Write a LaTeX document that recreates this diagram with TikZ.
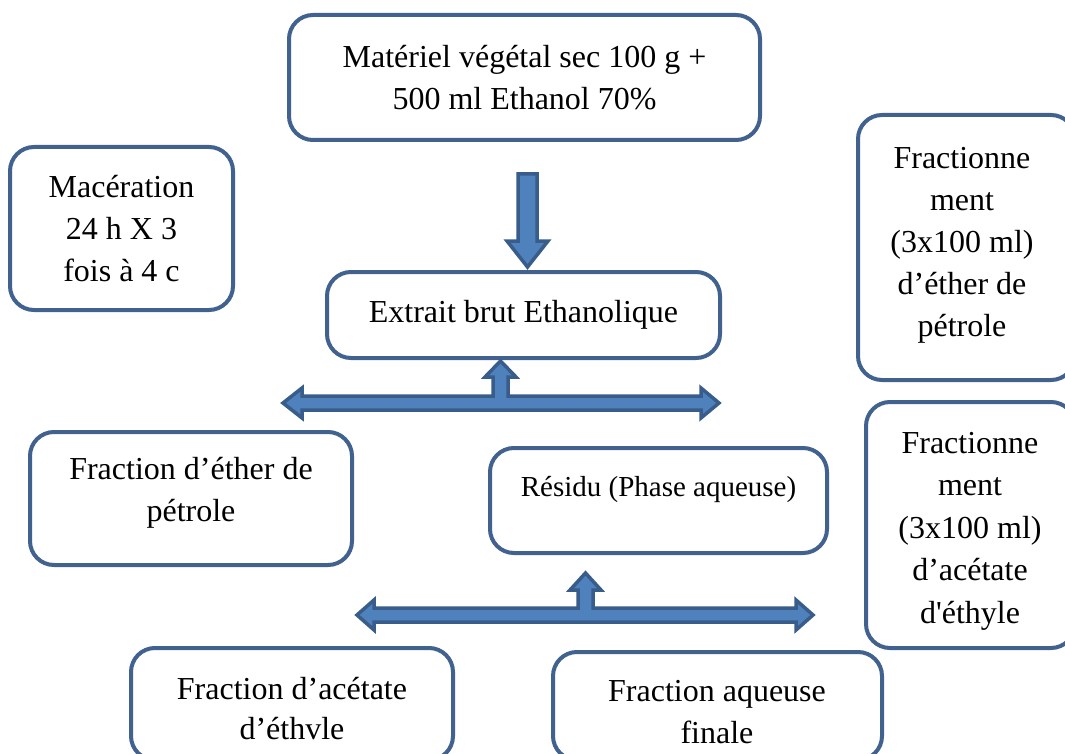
\documentclass[tikz,border=0pt]{standalone}
\usepackage{fontspec}
\setmainfont{Liberation Serif}
\definecolor{boxblue}{HTML}{41628F}
\definecolor{arrfill}{HTML}{4F81BD}
\definecolor{arrdraw}{HTML}{385D8A}
\tikzset{
  box/.style={draw=boxblue, line width=4pt, rounded corners=24pt, fill=white,
    align=center, inner sep=0pt, font=\fontsize{32}{42}\selectfont},
  boxtext/.style={align=center, inner sep=0pt, font=\fontsize{32}{42}\selectfont},
  blockarrow/.style={fill=arrfill, draw=arrdraw, line width=3.5pt, line join=miter},
}
\begin{document}
\begin{tikzpicture}[x=1pt,y=-1pt]
\path[use as bounding box, clip] (0,0) rectangle (1065,754);
\fill[white] (0,0) rectangle (1065,754);

% boxes
\node[box, minimum width=471pt, minimum height=125pt] (top) at (524.5,77.5) {Matériel végétal sec 100 g +\\500 ml Ethanol 70\%};
\node[box, minimum width=223pt, minimum height=163pt] (mac) at (121.5,228.5) {Macération\\24 h X 3\\fois à 4 c};
\node[box, minimum width=217pt, minimum height=265pt] (fr1) at (966.5,247.5) {};
\node[boxtext] (fr1t) at (962,245) {Fractionne\\ment\\(3x100 ml)\\d’éther de\\pétrole};
\node[box, minimum width=393pt, minimum height=86pt] (ext) at (523.5,315) {Extrait brut Ethanolique};
\node[box, minimum width=322pt, minimum height=133pt] (feth) at (191,498.5) {};
\node[boxtext] (fetht) at (191,493) {Fraction d’éther de\\pétrole};
\node[box, minimum width=337pt, minimum height=105pt] (res) at (658.5,500.5) {};
\node[font=\fontsize{29}{36}\selectfont, inner sep=0pt] (rest) at (658.5,490) {Résidu (Phase aqueuse)};
\node[box, minimum width=209pt, minimum height=246pt] (fr2) at (970.5,525) {};
\node[boxtext, font=\fontsize{32}{42.5}\selectfont] (fr2t) at (970,531) {Fractionne\\ment\\(3x100 ml)\\d’acétate\\d\textquotesingle éthyle};
\node[box, minimum width=322pt, minimum height=112pt] (fac) at (292,704) {};
\node[boxtext, font=\fontsize{32}{40}\selectfont] (fact) at (292,709) {Fraction d’acétate\\d’éthvle};
\node[box, minimum width=329pt, minimum height=108pt] (faq) at (717.5,706) {};
\node[boxtext] (faqt) at (717,712) {Fraction aqueuse\\finale};

% down arrow
\draw[blockarrow] (518,174) -- (537,174) -- (537,241) -- (548,241) -- (527.5,267) -- (507,241) -- (518,241) -- cycle;

% first T arrow
\draw[blockarrow] (283,403) -- (302,388) -- (302,396) -- (493,396) -- (493,377) -- (485,377) -- (500.5,361)
  -- (516,377) -- (508,377) -- (508,396) -- (701,396) -- (701,388) -- (719,403) -- (701,418)
  -- (701,410) -- (302,410) -- (302,418) -- cycle;

% second T arrow
\draw[blockarrow] (357,615) -- (374,600) -- (374,608) -- (578,608) -- (578,590) -- (570,590) -- (585.5,573)
  -- (601,590) -- (593,590) -- (593,608) -- (796,608) -- (796,600) -- (813,615) -- (796,630)
  -- (796,622) -- (374,622) -- (374,630) -- cycle;
\end{tikzpicture}
\end{document}
